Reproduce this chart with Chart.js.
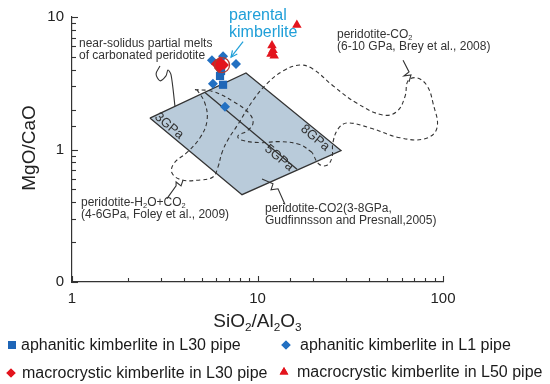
<!DOCTYPE html>
<html><head><meta charset="utf-8">
<script src="https://cdn.jsdelivr.net/npm/chart.js@4.4.1/dist/chart.umd.min.js"></script>
<style>html,body{margin:0;padding:0;background:#fff}#wrap{width:550px;height:384px;position:relative}</style>
</head><body><div id="wrap"><canvas id="c" width="550" height="384"></canvas></div>
<script>
// ---- tick labels ----
const xTickValues = [1, 10, 100];
const xTickLabels = ['1', '10', '100'];
const yTickValues = [0.1, 1, 10];
const yTickLabels = ['0', '1', '10'];

// ---- sample series (SiO2/Al2O3 , MgO/CaO) ----
const aphaniticL30 = [{x:6.36,y:3.91},{x:6.28,y:3.59},{x:6.52,y:3.08}];
const aphaniticL1  = [{x:5.68,y:4.72},{x:6.52,y:5.05},{x:7.66,y:4.41},{x:5.75,y:3.14},{x:6.68,y:2.10}];
const macroL30     = [{x:5.97,y:4.41},{x:6.28,y:4.64},{x:6.60,y:4.34},{x:6.20,y:4.12}];
const macroL50     = [{x:16.3,y:8.72},{x:11.97,y:6.1},{x:12.12,y:5.6},{x:11.83,y:5.25},{x:12.3,y:5.1}];
const parentalKimberlite = [{x:6.44,y:4.34}];

// ---- experimental fields ----
const pressureField = [{x:2.63,y:1.726},{x:8.67,y:3.78},{x:28.2,y:0.983},{x:8.25,y:0.456},{x:2.63,y:1.726}];
const isobar5GPa = [{x:5.21,y:2.69},{x:16.33,y:0.711}];
const foleyBreyCurve = [
 {x:4.72,y:2.83},{x:5.21,y:2.23},{x:5.34,y:1.64},{x:4.90,y:1.227},{x:4.17,y:0.95},{x:3.55,y:0.788},
 {x:3.46,y:0.664},{x:3.92,y:0.589},{x:4.90,y:0.589},{x:5.75,y:0.62},{x:6.12,y:0.736},{x:6.44,y:0.95},
 {x:6.93,y:1.186},{x:7.75,y:1.506},{x:9.46,y:2.35},{x:11.25,y:3.14},{x:13.7,y:3.91},{x:16.9,y:4.34},
 {x:19.9,y:4.05},{x:25.5,y:3.03},{x:34.4,y:2.23},{x:47.5,y:1.82},{x:56.5,y:1.94},{x:62.4,y:2.51},
 {x:64.8,y:3.30},{x:72.4,y:3.47},{x:82.0,y:3.03},{x:88.4,y:2.23},{x:92.8,y:1.455},{x:80.0,y:1.206},
 {x:58.6,y:1.227},{x:40.4,y:1.455},{x:30.4,y:1.585},{x:27.2,y:1.43},{x:25.5,y:1.127},{x:25.2,y:0.872},
 {x:23.7,y:0.761},{x:21.5,y:0.774},{x:19.7,y:0.95}
];
const gudfinnssonCurve = [
 {x:19.7,y:0.95},{x:16.9,y:1.089},{x:13.2,y:1.146},{x:10.3,y:1.127},{x:8.05,y:1.186},{x:7.85,y:1.27},
 {x:8.78,y:1.38},{x:9.46,y:1.585},{x:9.00,y:1.88},{x:7.38,y:2.31},{x:5.75,y:2.74},{x:4.60,y:2.83}
];
// ---- leader lines ----
const leaderNearSolidus = [{x:2.98,y:4.26},{x:2.84,y:3.72},{x:2.98,y:3.30},{x:3.21,y:3.59},{x:3.29,y:3.98},{x:3.42,y:3.66},{x:3.59,y:2.12}];
const leaderFoley = [{x:3.25,y:0.426},{x:3.64,y:0.532},{x:3.64,y:0.569},{x:3.87,y:0.532},{x:3.97,y:0.589}];
const leaderGudfinnsson = [{x:10.58,y:0.60},{x:12.12,y:0.551},{x:11.83,y:0.497},{x:12.9,y:0.505},{x:14.07,y:0.385}];
const leaderBrey = [{x:60.9,y:4.72},{x:65.6,y:3.85},{x:61.6,y:3.59},{x:67.2,y:3.66},{x:65.6,y:3.24}];
const parentalArrow = [{x:8.36,y:6.53},{x:7.20,y:4.97}];

const FONT = '"Liberation Sans", Arial, Helvetica, sans-serif';
const INK = '#333333';
const BLUE = '#1f66b7';
const BLUE2 = '#2270c2';
const RED = '#e3141d';
const CYAN = '#1f9fd8';

function lineDs(data, opts) {
  return Object.assign({data, showLine:true, pointRadius:0, borderColor:INK, borderWidth:1.1, tension:0, fill:false}, opts || {});
}
function ptDs(data, style, r, color, opts) {
  return Object.assign({data, showLine:false, pointStyle:style, pointRadius:r, pointBackgroundColor:color, pointBorderColor:color, pointBorderWidth:0}, opts || {});
}

function rich(ctx, parts, x, y, size) {
  let cx = x;
  for (const p of parts) {
    const sub = p[1];
    ctx.font = (sub ? size * 0.62 : size) + 'px ' + FONT;
    ctx.fillText(p[0], cx, sub ? y + size * 0.28 : y);
    cx += ctx.measureText(p[0]).width;
  }
  return cx - x;
}
function richWidth(ctx, parts, size) {
  let w = 0;
  for (const p of parts) { ctx.font = (p[1] ? size*0.62 : size) + 'px ' + FONT; w += ctx.measureText(p[0]).width; }
  return w;
}

const decor = {
  id: 'decor',
  beforeDatasetsDraw(chart) {
    const {ctx, scales:{x, y}} = chart;
    ctx.save();
    ctx.beginPath();
    pressureField.forEach((p, i) => {
      const px = x.getPixelForValue(p.x), py = y.getPixelForValue(p.y);
      i ? ctx.lineTo(px, py) : ctx.moveTo(px, py);
    });
    ctx.closePath();
    ctx.fillStyle = '#b9cbda';
    ctx.fill();
    ctx.restore();
  },
  afterDraw(chart) {
    const {ctx, chartArea:a, scales:{x, y}} = chart;
    ctx.save();
    // inward ticks
    ctx.strokeStyle = INK; ctx.lineWidth = 1.1;
    const isMajor = (v, list) => list.some(m => Math.abs(Math.log10(m) - Math.log10(v)) < 1e-6);
    x.ticks.forEach(t => {
      const px = Math.round(x.getPixelForValue(t.value)) + 0.5;
      const L = isMajor(t.value, xTickValues) ? 6 : 4;
      ctx.beginPath(); ctx.moveTo(px, a.bottom); ctx.lineTo(px, a.bottom - L); ctx.stroke();
    });
    y.ticks.forEach(t => {
      const py = Math.round(y.getPixelForValue(t.value)) + 0.5;
      const L = isMajor(t.value, yTickValues) ? 6 : 4;
      ctx.beginPath(); ctx.moveTo(a.left, py); ctx.lineTo(a.left + L, py); ctx.stroke();
    });
    // arrow head
    const p0 = parentalArrow[0], p1 = parentalArrow[1];
    const ax = x.getPixelForValue(p1.x), ay = y.getPixelForValue(p1.y);
    const bx = x.getPixelForValue(p0.x), by = y.getPixelForValue(p0.y);
    const ang = Math.atan2(ay - by, ax - bx);
    ctx.strokeStyle = CYAN; ctx.lineWidth = 1.2;
    ctx.beginPath();
    ctx.moveTo(ax - 7 * Math.cos(ang - 0.45), ay - 7 * Math.sin(ang - 0.45));
    ctx.lineTo(ax, ay);
    ctx.lineTo(ax - 7 * Math.cos(ang + 0.45), ay - 7 * Math.sin(ang + 0.45));
    ctx.stroke();

    // texts
    ctx.fillStyle = '#222'; ctx.textBaseline = 'middle'; ctx.textAlign = 'left';
    // axis titles
    const xt = [['SiO',0],['2',1],['/Al',0],['2',1],['O',0],['3',1]];
    const xw = richWidth(ctx, xt, 19);
    rich(ctx, xt, (a.left + a.right) / 2 - xw / 2, 322, 19);
    ctx.save();
    ctx.translate(30, 148); ctx.rotate(-Math.PI / 2);
    ctx.font = '19px ' + FONT; ctx.textAlign = 'center';
    ctx.fillText('MgO/CaO', 0, 0);
    ctx.restore();

    // annotations
    ctx.fillStyle = INK;
    ctx.font = '12px ' + FONT;
    ctx.fillText('near-solidus partial melts', 79, 44);
    ctx.fillText('of carbonated peridotite', 79, 56);
    rich(ctx, [['peridotite-CO',0],['2',1]], 337, 35, 12);
    ctx.font = '12px ' + FONT;
    ctx.fillText('(6-10 GPa, Brey et al., 2008)', 337, 47);
    rich(ctx, [['peridotite-H',0],['2',1],['O+CO',0],['2',1]], 81, 203, 12);
    ctx.font = '12px ' + FONT;
    ctx.fillText('(4-6GPa, Foley et al., 2009)', 81, 215);
    ctx.fillText('peridotite-CO2(3-8GPa,', 265, 209);
    ctx.fillText('Gudfinnsson and Presnall,2005)', 265, 221);

    ctx.fillStyle = CYAN; ctx.font = '16px ' + FONT;
    ctx.fillText('parental', 229, 16);
    ctx.fillText('kimberlite', 229, 33);

    // rotated isobar labels
    ctx.fillStyle = INK; ctx.font = '13px ' + FONT; ctx.textAlign = 'center';
    [['3GPa',169,126],['5GPa',279,158],['8GPa',315,138]].forEach(([t, cx, cy]) => {
      ctx.save(); ctx.translate(cx, cy); ctx.rotate(40 * Math.PI / 180); ctx.fillText(t, 0, 0); ctx.restore();
    });

    // legend
    ctx.textAlign = 'left';
    const legend = [
      ['aphanitic kimberlite in L30 pipe', 'rect', 5.6, BLUE, 12, 345, 21],
      ['aphanitic kimberlite in L1 pipe', 'rectRot', 4.6, BLUE2, 286, 345, 300],
      ['macrocrystic kimberlite in L30 pipe', 'rectRot', 4.6, RED, 11, 373, 22],
      ['macrocrystic kimberlite in L50 pipe', 'triangle', 5, RED, 284, 372, 297],
    ];
    legend.forEach(([t, st, r, col, mx, my, tx]) => {
      ctx.fillStyle = col; ctx.strokeStyle = col; ctx.lineWidth = 0;
      Chart.helpers.drawPoint(ctx, {pointStyle: st, radius: r, borderWidth: 0, rotation: 0}, mx, my);
      ctx.fill();
      ctx.fillStyle = '#1a1a1a'; ctx.font = '16px ' + FONT;
      ctx.fillText(t, tx, my + 1);
    });
    ctx.restore();
  }
};

const tickCb = (vals, labels) => (value) => {
  const i = vals.findIndex(v => Math.abs(Math.log10(v) - Math.log10(value)) < 1e-6);
  return i >= 0 ? labels[i] : '';
};

new Chart(document.getElementById('c'), {
  type: 'scatter',
  data: { datasets: [
    ptDs(parentalKimberlite, 'circle', 7.5, 'rgba(255,255,255,0)', {pointBorderColor:'#b03a30', pointBorderWidth:1.3}),
    ptDs(macroL30, 'rectRot', 5, RED),
    ptDs(aphaniticL30, 'rect', 5.8, BLUE),
    ptDs(aphaniticL1, 'rectRot', 5, BLUE2),
    ptDs(macroL50, 'triangle', 5.5, RED),
    lineDs(parentalArrow, {borderColor:CYAN, borderWidth:1.2}),
    lineDs(leaderNearSolidus, {tension:0.3}),
    lineDs(leaderFoley),
    lineDs(leaderGudfinnsson),
    lineDs(leaderBrey),
    lineDs(foleyBreyCurve, {borderDash:[4,3], tension:0.4, borderWidth:1.1}),
    lineDs(gudfinnssonCurve, {borderDash:[4,3], tension:0.4, borderWidth:1.1}),
    lineDs(isobar5GPa, {borderWidth:1.3}),
    lineDs(pressureField, {borderWidth:1.3}),
  ]},
  options: {
    responsive: false, animation: false, maintainAspectRatio: false,
    layout: { padding: {top: 12, right: 107, left: 0, bottom: 0} },
    plugins: { legend: {display:false}, tooltip: {enabled:false} },
    elements: { line: { capBezierPoints: true } },
    scales: {
      x: { type:'logarithmic', min:1, max:100,
           grid:{display:false, drawTicks:false},
           border:{display:true, color:INK, width:1.2},
           ticks:{autoSkip:false, maxRotation:0, padding:8, color:'#222', font:{size:15, family:FONT}, callback: tickCb(xTickValues, xTickLabels)},
           afterFit(s){ s.height = 102; } },
      y: { type:'logarithmic', min:0.1, max:10,
           grid:{display:false, drawTicks:false},
           border:{display:true, color:INK, width:1.2},
           ticks:{autoSkip:false, padding:8, color:'#222', font:{size:15, family:FONT}, callback: tickCb(yTickValues, yTickLabels)},
           afterFit(s){ s.width = 72; } }
    }
  },
  plugins: [decor]
});
</script>
</body></html>
